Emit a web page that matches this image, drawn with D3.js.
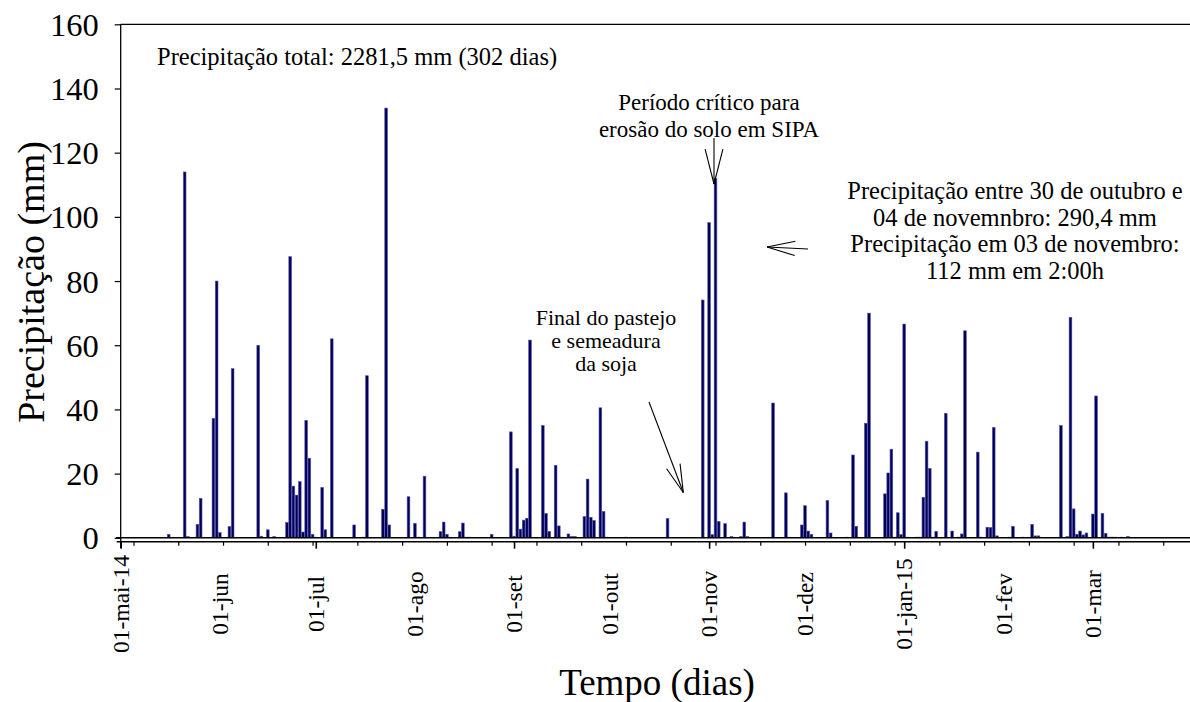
<!DOCTYPE html>
<html>
<head>
<meta charset="utf-8">
<script src="https://cdn.jsdelivr.net/npm/d3@7"></script>
<style>
  body { margin: 0; background: #fff; }
  svg { display: block; }
  svg text { font-family: "Liberation Serif", "Times New Roman", serif; fill: #000; }
</style>
</head>
<body>
<svg class="chart" width="1190" height="702"></svg>
<script>
// daily rain (mm)
const dates = [
  "2014-05-16","2014-05-21","2014-05-22","2014-05-25","2014-05-26","2014-05-30","2014-05-31",
  "2014-06-01","2014-06-04","2014-06-05","2014-06-13","2014-06-14","2014-06-16","2014-06-18",
  "2014-06-22","2014-06-23","2014-06-24","2014-06-25","2014-06-26","2014-06-27","2014-06-28",
  "2014-06-29","2014-06-30","2014-07-01","2014-07-03","2014-07-04","2014-07-06","2014-07-13",
  "2014-07-16","2014-07-17","2014-07-22","2014-07-23","2014-07-24","2014-07-30","2014-08-01",
  "2014-08-02","2014-08-04","2014-08-09","2014-08-10","2014-08-11","2014-08-12","2014-08-15",
  "2014-08-16","2014-08-17","2014-08-18","2014-08-25","2014-08-31","2014-09-01","2014-09-02",
  "2014-09-03","2014-09-04","2014-09-05","2014-09-06","2014-09-10","2014-09-11","2014-09-12",
  "2014-09-14","2014-09-15","2014-09-16","2014-09-18","2014-09-19","2014-09-20","2014-09-23",
  "2014-09-24","2014-09-25","2014-09-26","2014-09-28","2014-09-29","2014-09-30","2014-10-06",
  "2014-10-19","2014-10-30","2014-11-01","2014-11-02","2014-11-03","2014-11-04","2014-11-06",
  "2014-11-08","2014-11-11","2014-11-12","2014-11-13","2014-11-21","2014-11-25","2014-11-26",
  "2014-11-30","2014-12-01","2014-12-02","2014-12-03","2014-12-08","2014-12-09","2014-12-14",
  "2014-12-16","2014-12-17","2014-12-20","2014-12-21","2014-12-26","2014-12-27","2014-12-28",
  "2014-12-29","2014-12-30","2014-12-31","2015-01-01","2015-01-02","2015-01-05","2015-01-06",
  "2015-01-07","2015-01-08","2015-01-09","2015-01-10","2015-01-11","2015-01-14","2015-01-16",
  "2015-01-18","2015-01-19","2015-01-20","2015-01-24","2015-01-25","2015-01-27","2015-01-28",
  "2015-01-29","2015-01-30","2015-02-03","2015-02-04","2015-02-07","2015-02-10","2015-02-11",
  "2015-02-12","2015-02-19","2015-02-21","2015-02-22","2015-02-23","2015-02-24","2015-02-25",
  "2015-02-26","2015-02-27","2015-03-01","2015-03-02","2015-03-04","2015-03-05","2015-03-06",
  "2015-03-07","2015-03-08","2015-03-10","2015-03-12"
];
const rain = [
  1.1,114,0.4,4.2,12.3,37.2,80,
  1.6,3.5,52.7,60,0.5,2.5,0.4,
  4.8,87.6,16.1,13.3,17.5,1.8,36.6,
  24.8,1.1,0.2,15.7,2.5,62,4,
  0.2,50.5,8.9,133.9,4,12.8,4.5,
  0.2,19.2,1.9,4.9,1.1,0.2,1.9,
  4.6,0.2,0.2,1.1,33,0.5,21.6,
  2.7,5.5,6.1,61.6,35,7.6,2,
  22.6,3.7,0.2,1.2,0.4,0.4,6.6,
  18.3,6.4,5.4,40.5,8.2,0.2,0.2,
  6,74.1,98.2,1,112,5.1,4.4,
  0.4,0.4,4.9,0.4,42,14,0.2,
  4,10,2.1,1.1,11.6,1.5,0.2,
  25.8,3.6,35.7,70,13.7,20.2,27.6,
  0.2,7.8,1,66.6,0.2,0.2,0.2,
  12.6,30.1,21.6,0.2,2,38.8,2.1,
  0.2,1.2,64.5,26.7,0.2,3.3,3.2,
  34.4,0.6,0.2,3.6,0.2,4.2,0.6,
  0.6,35,0.4,68.7,9,1.1,2.1,
  0.9,1.5,7.4,44.2,7.6,1.4,0.2,
  0.2,0.2,0.2,0.4
];
const monthDates = ["2014-05-01","2014-06-01","2014-07-01","2014-08-01","2014-09-01","2014-10-01",
  "2014-11-01","2014-12-01","2015-01-01","2015-02-01","2015-03-01"];
const monthLabels = ["01-mai-14","01-jun","01-jul","01-ago","01-set","01-out",
  "01-nov","01-dez","01-jan-15","01-fev","01-mar"];
const yTicks = [0,20,40,60,80,100,120,140,160];

const parse = d3.utcParse("%Y-%m-%d");
const data = dates.map((d, i) => ({date: parse(d), value: rain[i]}));

const svg = d3.select("svg.chart");
const plotLeft = 120.7, plotTop = 24.3, plotBottom = 537.8, plotRight = 1192;

const x = d3.scaleUtc()
  .domain([parse("2014-05-01"), parse("2015-04-01")])
  .range([plotLeft, plotRight]);
const y = d3.scaleLinear().domain([0, 160]).range([plotBottom, plotTop]);

const dayW = x(parse("2014-05-02")) - x(parse("2014-05-01"));
const barW = dayW * 0.85;

// bars
svg.append("g").selectAll("rect").data(data)
  .enter().append("rect")
  .attr("x", d => x(d.date) - barW / 2)
  .attr("y", d => y(d.value))
  .attr("width", barW)
  .attr("height", d => y(0) - y(d.value))
  .attr("fill", "#000058")
  .attr("stroke", "#5656b0")
  .attr("stroke-width", 0.6);

// frame lines
svg.append("line").attr("x1", plotLeft).attr("x2", plotRight).attr("y1", plotTop).attr("y2", plotTop)
  .attr("stroke", "#000").attr("stroke-width", 1.2);
svg.append("line").attr("x1", 116).attr("x2", plotRight).attr("y1", y(0)).attr("y2", y(0))
  .attr("stroke", "#000").attr("stroke-width", 1.5);

// y axis
const yAxis = d3.axisLeft(y).tickValues(yTicks).tickSize(6).tickPadding(16);
const gy = svg.append("g").attr("transform", `translate(${plotLeft},0)`).call(yAxis);
gy.attr("font-family", null);
gy.select(".domain").remove();
gy.selectAll(".tick line").attr("stroke", "#000").attr("stroke-width", 1.2);
gy.selectAll(".tick text").attr("font-size", "32.5px").attr("dy", "0.34em");
svg.append("line").attr("x1", plotLeft).attr("x2", plotLeft).attr("y1", plotTop).attr("y2", 548)
  .attr("stroke", "#000").attr("stroke-width", 1.3);

// x axis (two tick sets, labels drawn separately)
const axisY = 541.7;
const minorTicks = d3.utcDay.range(parse("2014-05-05"), parse("2015-04-01"), 14);
const majorTicks = d3.utcMonth.every(2).range(parse("2014-05-01"), parse("2015-04-01"));
const gx = svg.append("g").attr("transform", `translate(0,${axisY})`)
  .call(d3.axisBottom(x).tickValues(minorTicks).tickSize(4).tickFormat(""));
gx.select(".domain").attr("d", `M${plotLeft - 4},0H${plotRight}`).attr("stroke-width", 1.5);
gx.selectAll(".tick line").attr("stroke", "#000").attr("stroke-width", 1.2);
const gx2 = svg.append("g").attr("transform", `translate(0,${axisY})`)
  .call(d3.axisBottom(x).tickValues(majorTicks).tickSize(7).tickFormat(""));
gx2.select(".domain").remove();
gx2.selectAll(".tick line").attr("stroke", "#000").attr("stroke-width", 1.6);

svg.append("g").selectAll("text").data(monthDates)
  .enter().append("text")
  .attr("transform", d => `translate(${x(parse(d))},604) rotate(-90)`)
  .attr("text-anchor", "middle")
  .attr("dy", "0.35em")
  .attr("font-size", "23.5px")
  .text((d, i) => monthLabels[i]);

// axis titles
svg.append("text")
  .attr("transform", "translate(31,282) rotate(-90)")
  .attr("text-anchor", "middle").attr("dy", "0.35em")
  .attr("font-size", "38px")
  .text("Precipitação (mm)");
svg.append("text")
  .attr("x", 657).attr("y", 695)
  .attr("text-anchor", "middle")
  .attr("font-size", "37px")
  .text("Tempo (dias)");

// notes
const note = (lines, cx, y0, step, size, anchor) => {
  lines.forEach((t, i) => {
    svg.append("text").attr("x", cx).attr("y", y0 + i * step)
      .attr("text-anchor", anchor || "middle")
      .attr("font-size", size + "px")
      .text(t);
  });
};
note(["Precipitação total: 2281,5 mm (302 dias)"], 157, 65, 0, 24.5, "start");
note(["Período crítico para", "erosão do solo em SIPA"], 709, 110, 27, 23);
note(["Precipitação entre 30 de outubro e", "04 de novemnbro: 290,4 mm",
      "Precipitação em 03 de novembro:", "112 mm em 2:00h"], 1015, 199, 26.5, 24.5);
note(["Final do pastejo", "e semeadura", "da soja"], 606, 325, 23, 22);

// arrows: shaft plus an open head of two lines
const arrow = (x1, y1, x2, y2, len) => {
  const g = svg.append("g").attr("stroke", "#000").attr("stroke-width", 1.1).attr("fill", "none");
  g.append("line").attr("x1", x1).attr("y1", y1).attr("x2", x2).attr("y2", y2);
  const a = Math.atan2(y1 - y2, x1 - x2), sp = 0.25;
  [-sp, sp].forEach(s => {
    g.append("line").attr("x1", x2).attr("y1", y2)
      .attr("x2", x2 + len * Math.cos(a + s)).attr("y2", y2 + len * Math.sin(a + s));
  });
};
arrow(649, 402, 683.3, 492.5, 29);
arrow(714, 138, 714, 184, 36);
arrow(808, 249, 767, 247, 29);
</script>
</body>
</html>
